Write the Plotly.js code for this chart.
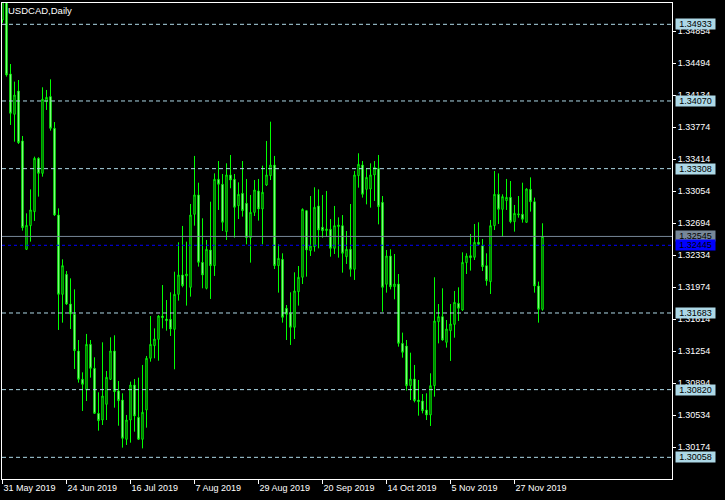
<!DOCTYPE html>
<html><head><meta charset="utf-8">
<script src="https://cdn.plot.ly/plotly-3.0.1.min.js"></script>
<style>html,body{margin:0;padding:0;background:#000;} #chart{width:725px;height:500px;}</style>
</head><body><div id="chart"></div>
<script>
const chartTitle = "USDCAD,Daily";
const firstBarDate = [2019, 4, 31];

const openP = [1.34982,1.35240,1.34374,1.33920,1.34182,1.33620,1.32400,1.32666,1.32824,1.33424,
1.33255,1.34062,1.34119,1.33762,1.32786,1.31893,1.32118,1.31784,1.31668,1.31255,
1.30936,1.30816,1.31330,1.31060,1.30553,1.30478,1.30655,1.30936,1.31255,1.30805,
1.30703,1.30261,1.30478,1.30872,1.30508,1.30261,1.30591,1.31173,1.31315,1.31386,
1.31649,1.31615,1.31612,1.31499,1.31893,1.32111,1.32100,1.31972,1.32794,1.33012,
1.32253,1.31961,1.32392,1.32216,1.33188,1.33132,1.32599,1.33237,1.33188,1.32891,
1.33030,1.32918,1.32531,1.32816,1.33057,1.32854,1.33124,1.33229,1.33349,1.32216,
1.32287,1.31736,1.31679,1.31522,1.31923,1.32085,1.32835,1.32385,1.32430,1.32888,
1.32648,1.32610,1.32625,1.32411,1.32655,1.32666,1.32317,1.32400,1.32175,1.33229,
1.33349,1.33075,1.33079,1.33237,1.33312,1.32929,1.32006,1.32325,1.31979,1.32009,
1.31341,1.31311,1.30865,1.30940,1.30703,1.30692,1.30591,1.30535,1.30865,1.31585,
1.31642,1.31353,1.31484,1.31555,1.31792,1.31717,1.32250,1.32328,1.32310,1.32479,
1.32441,1.32216,1.32036,1.32666,1.33019,1.32850,1.32948,1.32985,1.32711,1.32786,
1.32794,1.32704,1.33075,1.32936,1.31987,1.31724];
const highP = [1.35600,1.35300,1.34486,1.34288,1.34306,1.33676,1.32805,1.33075,1.33443,1.33436,
1.34224,1.34194,1.34314,1.33833,1.32861,1.32287,1.32156,1.32073,1.31949,1.31379,
1.31015,1.31447,1.31379,1.31184,1.30790,1.31353,1.31030,1.31409,1.31432,1.30917,
1.30779,1.30535,1.30910,1.30940,1.30955,1.31098,1.31199,1.31649,1.31510,1.31660,
1.31998,1.31829,1.31916,1.32148,1.32479,1.32663,1.32486,1.32910,1.33451,1.33150,
1.32749,1.32505,1.32936,1.33255,1.33394,1.33248,1.33368,1.33462,1.33248,1.33154,
1.33394,1.33192,1.33012,1.33180,1.33192,1.33342,1.33620,1.33837,1.33451,1.32456,
1.32355,1.31773,1.31916,1.32141,1.32212,1.32861,1.32843,1.33000,1.33098,1.33075,
1.33012,1.33057,1.32741,1.32888,1.32760,1.32786,1.32606,1.32910,1.33282,1.33481,
1.33394,1.33312,1.33368,1.33394,1.33462,1.33000,1.32392,1.32400,1.32347,1.32122,
1.31462,1.31379,1.31236,1.31098,1.30929,1.30771,1.30779,1.31004,1.32085,1.31784,
1.31961,1.31604,1.31784,1.31931,1.31972,1.32366,1.32355,1.32572,1.32685,1.32704,
1.32516,1.32355,1.32730,1.33282,1.33255,1.33019,1.33192,1.33169,1.32899,1.33000,
1.33150,1.33087,1.33210,1.32982,1.32036,1.32693];
const lowP = [1.34950,1.34344,1.33800,1.33612,1.33586,1.32610,1.32392,1.32486,1.32719,1.32993,
1.33218,1.33969,1.33736,1.32775,1.31492,1.31574,1.31773,1.31503,1.31052,1.30899,
1.30580,1.30692,1.30955,1.30546,1.30358,1.30422,1.30478,1.30929,1.30617,1.30414,
1.30167,1.30197,1.30223,1.30347,1.30253,1.30159,1.30392,1.31135,1.31173,1.31146,
1.31510,1.31484,1.31424,1.31049,1.31822,1.31972,1.31766,1.31867,1.32666,1.32205,
1.31961,1.31949,1.31841,1.32100,1.32843,1.32606,1.32505,1.33087,1.32531,1.32741,
1.32768,1.32456,1.32250,1.32775,1.32723,1.32456,1.33113,1.33180,1.32178,1.31912,
1.31574,1.31379,1.31323,1.31390,1.31766,1.32009,1.32092,1.32325,1.32374,1.32411,
1.32531,1.32542,1.32317,1.32347,1.32306,1.32137,1.32235,1.32092,1.32055,1.33094,
1.32982,1.32906,1.32869,1.32944,1.32681,1.31698,1.31912,1.31949,1.31837,1.31304,
1.31180,1.30809,1.30703,1.30677,1.30527,1.30553,1.30478,1.30411,1.30741,1.31341,
1.31371,1.31293,1.31143,1.31405,1.31593,1.31706,1.32122,1.32160,1.32280,1.32449,
1.32156,1.31991,1.31897,1.32617,1.32685,1.32542,1.32843,1.32693,1.32599,1.32756,
1.32700,1.32700,1.32824,1.31912,1.31574,1.31709];
const closeP = [1.35240,1.34363,1.33931,1.34137,1.33601,1.32644,1.32670,1.32843,1.33424,1.33255,
1.34089,1.34111,1.33762,1.32786,1.31893,1.32216,1.31784,1.31672,1.31259,1.30936,
1.30880,1.31330,1.31060,1.30553,1.30471,1.30748,1.30959,1.31255,1.30797,1.30696,
1.30272,1.30478,1.30872,1.30523,1.30261,1.30565,1.31173,1.31330,1.31390,1.31649,
1.31630,1.31597,1.31503,1.31893,1.32111,1.31991,1.32122,1.32786,1.33012,1.32253,
1.32111,1.32400,1.32216,1.33188,1.33132,1.32704,1.33237,1.33180,1.32873,1.33019,
1.32835,1.32531,1.32816,1.33068,1.32854,1.33042,1.33237,1.33349,1.32216,1.32298,
1.31634,1.31668,1.31522,1.31931,1.32085,1.32850,1.32392,1.32437,1.32873,1.32617,
1.32610,1.32629,1.32411,1.32666,1.32674,1.32355,1.32400,1.32175,1.33237,1.33357,
1.33019,1.33210,1.33237,1.33323,1.32880,1.31972,1.32325,1.31979,1.32009,1.31341,
1.31240,1.30865,1.30940,1.30696,1.30685,1.30583,1.30535,1.30865,1.31593,1.31642,
1.31379,1.31503,1.31559,1.31803,1.31736,1.32253,1.32325,1.32306,1.32479,1.32456,
1.32205,1.32047,1.32666,1.33019,1.32850,1.32993,1.32985,1.32711,1.32805,1.32798,
1.32738,1.33079,1.32936,1.31987,1.31724,1.32545];

const priceTicks = [1.34854,1.34494,1.34134,1.33774,1.33414,1.33054,1.32694,1.32334,1.31974,1.31614,1.31254,1.30894,1.30534,1.30174];
const levelPrices = [1.34933,1.34070,1.33308,1.31683,1.30820,1.30058];
const askPrice = 1.32545;
const bidPrice = 1.32445;
const dateTickLabels = ["31 May 2019","24 Jun 2019","16 Jul 2019","7 Aug 2019","29 Aug 2019","20 Sep 2019","14 Oct 2019","5 Nov 2019","27 Nov 2019"];
const priceRange = [1.29814, 1.35173];

// business-day categories
const monthNames = ["Jan","Feb","Mar","Apr","May","Jun","Jul","Aug","Sep","Oct","Nov","Dec"];
const dates = [], dateLabels = [];
let d = new Date(Date.UTC(firstBarDate[0], firstBarDate[1], firstBarDate[2]));
while (dates.length < openP.length) {
  const wd = d.getUTCDay();
  if (wd !== 0 && wd !== 6) {
    dates.push(d.toISOString().slice(0,10));
    dateLabels.push(d.getUTCDate() + " " + monthNames[d.getUTCMonth()] + " " + d.getUTCFullYear());
  }
  d = new Date(d.getTime() + 86400000);
}
const tickvals = [], ticktext = [];
dateTickLabels.forEach(t => { const k = dateLabels.indexOf(t); if (k >= 0) { tickvals.push(dates[k]); ticktext.push(t); } });

const FONT = "Liberation Sans, Arial, sans-serif";
const lime = "#00ff00";

const trace = {
  type: "candlestick",
  x: dates, open: openP, high: highP, low: lowP, close: closeP,
  increasing: {line: {color: lime, width: 1}, fillcolor: "#000000"},
  decreasing: {line: {color: lime, width: 1}, fillcolor: "#ffffff"},
  whiskerwidth: 0,
  hoverinfo: "skip"
};

const shapes = levelPrices.map(p => ({
  type: "line", xref: "paper", x0: 0, x1: 1, yref: "y", y0: p, y1: p,
  line: {color: "#add8e6", width: 1, dash: "4px,3px"}, layer: "above"
}));
shapes.push({type: "line", xref: "paper", x0: 0, x1: 1, yref: "y", y0: askPrice, y1: askPrice,
  line: {color: "#778899", width: 1}, layer: "above"});
shapes.push({type: "line", xref: "paper", x0: 0, x1: 1, yref: "y", y0: bidPrice, y1: bidPrice,
  line: {color: "#0000ff", width: 1, dash: "3px,3px"}, layer: "above"});

function priceTag(p, bg) {
  return {x: 1, xref: "paper", xanchor: "left", xshift: 3, y: p, yref: "y", yanchor: "middle",
    text: p.toFixed(5), showarrow: false, bgcolor: bg, borderpad: 0, width: 39, height: 10,
    align: "center", valign: "middle", font: {family: FONT, size: 9, color: "#000000"}};
}
const annotations = levelPrices.map(p => priceTag(p, "#add8e6"));
annotations.push(priceTag(askPrice, "#778899"));
annotations.push(priceTag(bidPrice, "#0000ff"));
annotations.push({x: 0, xref: "paper", xanchor: "left", xshift: 5, y: 1, yref: "paper", yanchor: "top", yshift: -1,
  text: chartTitle, showarrow: false, borderpad: 0, font: {family: FONT, size: 9.5, color: "#ffffff"}});

const layout = {
  width: 725, height: 500,
  margin: {l: 2, r: 53, t: 3, b: 21},
  paper_bgcolor: "#000000", plot_bgcolor: "rgba(0,0,0,0)",
  showlegend: false, boxgap: 0.5,
  font: {family: FONT, size: 9, color: "#ffffff"},
  xaxis: {
    type: "category", range: [-0.125, 167.375], rangeslider: {visible: false},
    showgrid: false, zeroline: false, showline: true, mirror: true, linecolor: "#ffffff", linewidth: 1,
    ticks: "outside", ticklen: 4, tickcolor: "#ffffff", tickvals: tickvals, ticktext: ticktext,
    ticklabelposition: "outside right", tickfont: {family: FONT, size: 9, color: "#ffffff"},
    fixedrange: true
  },
  yaxis: {
    side: "right", range: priceRange, tickvals: priceTicks, tickformat: ".5f",
    showgrid: false, zeroline: false, showline: true, mirror: true, linecolor: "#ffffff", linewidth: 1,
    ticks: "outside", ticklen: 3, tickcolor: "#ffffff",
    tickfont: {family: FONT, size: 9, color: "#ffffff"}, fixedrange: true
  },
  shapes: shapes,
  annotations: annotations
};

Plotly.newPlot("chart", [trace], layout, {displayModeBar: false, staticPlot: true});
</script>
</body></html>
